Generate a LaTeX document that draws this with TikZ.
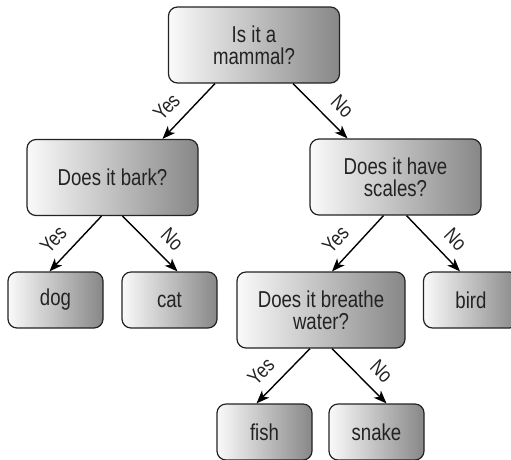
\documentclass[tikz,border=0pt]{standalone}
\usepackage{fontspec}
\setmainfont{Liberation Sans}[FakeStretch=0.81]
\usepackage{tikz}
\usetikzlibrary{arrows.meta}
\definecolor{ink}{RGB}{35,35,35}

\begin{document}
\begin{tikzpicture}[x=1pt,y=-1pt,>={Stealth[length=13pt,width=10pt,inset=3.5pt]},
    box/.style={draw=ink,line width=1.2pt,rounded corners=9pt,left color=black!2,right color=black!47,
      text=ink,align=center,inner sep=0pt,font=\fontsize{23}{22}\selectfont},
    qn/.style={box,minimum width=171pt,minimum height=76pt},
    lf/.style={box,minimum width=95pt,minimum height=56pt},
    ans/.style={sloped,above=11pt,pos=0.66,inner sep=0pt,text=ink,font=\fontsize{21}{21}\selectfont},
    br/.style={line width=1.4pt,->}]
  \clip (0,0) rectangle (511,459);
  % questions
  \node[qn] (mammal) at (254,45) {Is it a\\mammal?};
  \node[qn] (bark) at (112.5,177.5) {Does it bark?};
  \node[qn] (scales) at (395.5,177) {Does it have\\scales?};
  \node[qn,minimum width=168pt] (water) at (321,310) {Does it breathe\\water?};
  % answers
  \foreach \n/\x/\y in {dog/55.5/300,cat/169.5/300,bird/471/300,fish/264.5/432,snake/376.5/432}
    \node[lf] (\n) at (\x,\y) {\n};
  % branches
  \draw[br] ([xshift=-39pt]mammal.south) -- node[ans]{Yes} ([xshift=50pt]bark.north);
  \draw[br] ([xshift=39pt]mammal.south) -- node[ans]{No} ([xshift=-48pt]scales.north);
  \draw[br] ([xshift=-11pt]bark.south) -- node[ans]{Yes} ([xshift=-6pt]dog.north);
  \draw[br] ([xshift=10pt]bark.south) -- node[ans]{No} ([xshift=8pt]cat.north);
  \draw[br] ([xshift=-12pt]scales.south) -- node[ans]{Yes} ([xshift=11pt]water.north);
  \draw[br] ([xshift=11pt]scales.south) -- node[ans]{No} ([xshift=-11pt]bird.north);
  \draw[br] ([xshift=-11pt]water.south) -- node[ans]{Yes} ([xshift=-8pt]fish.north);
  \draw[br] ([xshift=11pt]water.south) -- node[ans]{No} ([xshift=10pt]snake.north);
\end{tikzpicture}
\end{document}
